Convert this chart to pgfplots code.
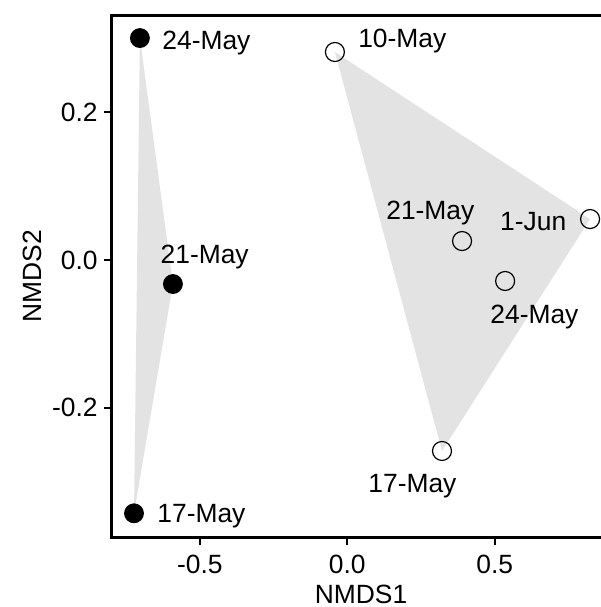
\documentclass[border=0pt]{standalone}
\usepackage{pgfplots}
\pgfplotsset{compat=1.18}
\usepackage{fontspec}
\setmainfont{Liberation Sans}
\definecolor{hull}{gray}{0.89}
\newcommand{\lf}{\fontsize{13.2}{15}\selectfont}
\begin{document}
\begin{tikzpicture}
\begin{axis}[
 at={(0,0)}, anchor=south west,
 width=249pt, height=261pt, scale only axis,
 xmin=-0.7976, xmax=0.8905, ymin=-0.3751, ymax=0.3318,
 axis line style={line width=1.5pt},
 xtick={-0.5,0,0.5}, xticklabels={-0.5,0.0,0.5},
 ytick={-0.2,0,0.2}, yticklabels={-0.2,0.0,0.2},
 tick align=outside, xtick pos=bottom, ytick pos=left,
 major tick length=4pt,
 every tick/.style={black, line width=1pt},
 tick label style={font=\lf},
 xticklabel style={inner sep=0pt, anchor=north, yshift=-5pt},
 yticklabel style={inner sep=0pt, anchor=east, xshift=-3pt},
 xlabel={NMDS1}, ylabel={NMDS2},
 xlabel style={font=\lf, at={(axis description cs:0.5,0)}, anchor=north, yshift=-24pt, inner sep=0pt},
 ylabel style={font=\lf, at={(axis description cs:-0.1406,0.5)}, anchor=base, inner sep=0pt},
 clip=false,
]
% hulls
\addplot[fill=hull, draw=none] coordinates {(-0.703,0.3006) (-0.591,-0.0325) (-0.723,-0.343)};
\addplot[fill=hull, draw=none] coordinates {(-0.042,0.2817) (0.823,0.0555) (0.321,-0.2586)};
% filled points
\addplot[only marks, mark=*, mark size=4.75pt, black] coordinates {(-0.703,0.3006) (-0.591,-0.0325) (-0.723,-0.343)};
% open points
\addplot[only marks, mark=o, mark size=4.75pt, mark options={draw=black, line width=0.6pt}] coordinates {(-0.042,0.2817) (0.823,0.0555) (0.389,0.0257) (0.535,-0.0284) (0.321,-0.2586)};
% labels
\begin{scope}[every node/.style={anchor=base west, inner sep=0pt, font=\lf}]
\node at (axis cs:-0.628,0.2857) {24-May};
\node at (axis cs:-0.634,-0.0041) {21-May};
\node at (axis cs:-0.645,-0.356) {17-May};
\node at (axis cs:0.036,0.2884) {10-May};
\node at (axis cs:0.131,0.0542) {21-May};
\node at (axis cs:0.517,0.0406) {1-Jun};
\node at (axis cs:0.4837,-0.0853) {24-May};
\node at (axis cs:0.0702,-0.3155) {17-May};
\end{scope}
\end{axis}
\pgfresetboundingbox
\path[use as bounding box] (-56pt,-35pt) rectangle (244.5pt,268.5pt);
\end{tikzpicture}
\end{document}
